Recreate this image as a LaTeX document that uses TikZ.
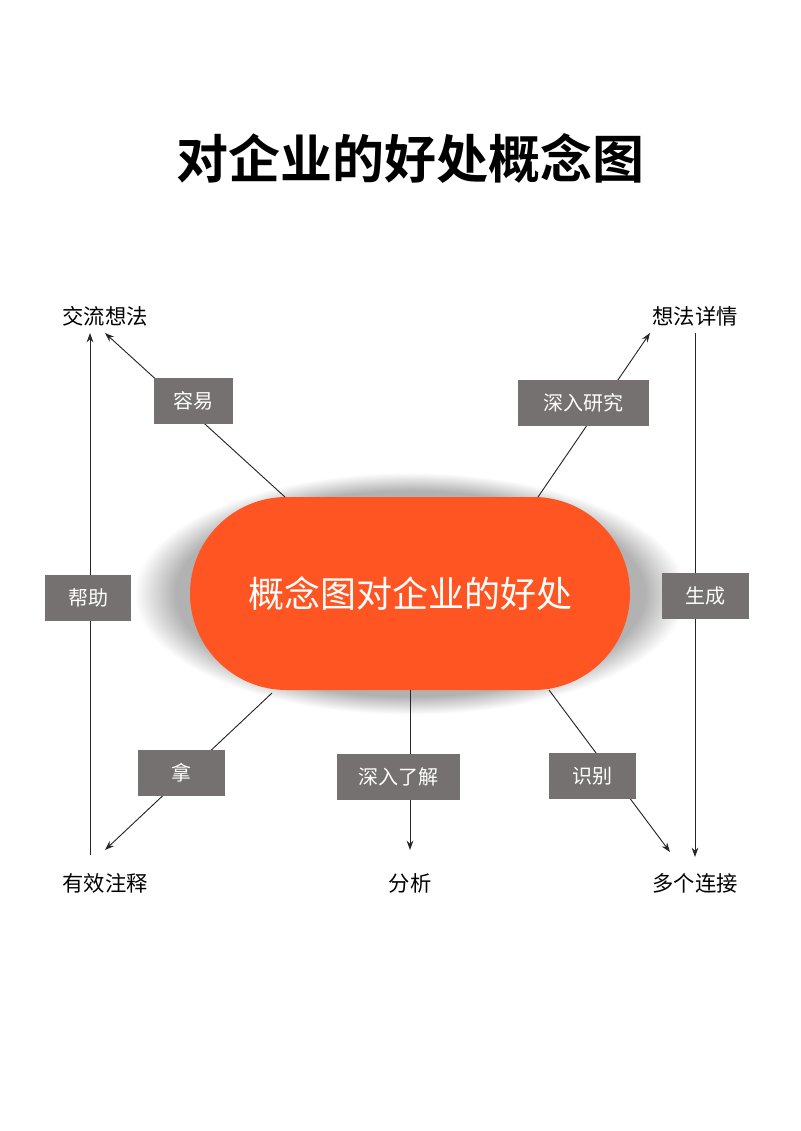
\documentclass[tikz,border=0pt]{standalone}
\usepackage{fontspec}
\setmainfont{Noto Sans CJK SC}
\newfontfamily\cjkbold{Noto Sans CJK SC Bold}
\usetikzlibrary{shadows,arrows.meta}
\definecolor{pillc}{HTML}{FF5522}
\definecolor{boxc}{HTML}{767171}
\begin{document}
\begin{tikzpicture}[x=0.75pt,y=-0.75pt,
  lab/.style={fill=boxc,text=white,font=\fontsize{15}{18}\selectfont,inner sep=0pt,minimum height=34pt},
  term/.style={font=\fontsize{16}{19}\selectfont,inner sep=1pt},
  arr/.style={draw=black!85,line width=0.7pt,-{Stealth[length=7pt,width=5pt]}}]
\useasboundingbox (0,0) rectangle (800,1131);
\node[font=\cjkbold\fontsize{39}{46}\selectfont] (title) at (410,158) {对企业的好处概念图};
\node[fill=pillc,rounded corners=96.5*0.75pt,minimum width=440*0.75pt,minimum height=193*0.75pt,
  text=white,font=\fontsize{27}{32}\selectfont,
  circular glow={fill=black!60,opacity=0.5}] (c) at (410,593.5) {概念图对企业的好处};
\node[term] (t1) at (105,316) {交流想法};
\node[term] (t2) at (695,316) {想法详情};
\node[term] (t3) at (105,883) {有效注释};
\node[term] (t4) at (410,883) {分析};
\node[term] (t5) at (695,883) {多个连接};
\coordinate (p1) at (285,497); \coordinate (q1) at (105,333);
\coordinate (p2) at (538,497); \coordinate (q2) at (650,333);
\coordinate (p3) at (272,693); \coordinate (q3) at (105,850);
\coordinate (p4) at (410,690); \coordinate (q4) at (410,850);
\coordinate (p5) at (549,690); \coordinate (q5) at (670,852);
\coordinate (p6) at (90,855); \coordinate (q6) at (90,333);
\coordinate (p7) at (695,333); \coordinate (q7) at (695,857);
\foreach \i in {1,...,7} \draw[arr] (p\i) -- (q\i);
\node[lab,minimum width=79*0.75pt] (l1) at (193,401) {容易};
\node[lab,minimum width=131*0.75pt] (l2) at (583,403) {深入研究};
\node[lab,minimum width=86*0.75pt] (l3) at (88,598) {帮助};
\node[lab,minimum width=87*0.75pt] (l4) at (705,596) {生成};
\node[lab,minimum width=87*0.75pt] (l5) at (181,773) {拿};
\node[lab,minimum width=123*0.75pt] (l6) at (398,777) {深入了解};
\node[lab,minimum width=87*0.75pt] (l7) at (592,776) {识别};
\end{tikzpicture}
\end{document}
